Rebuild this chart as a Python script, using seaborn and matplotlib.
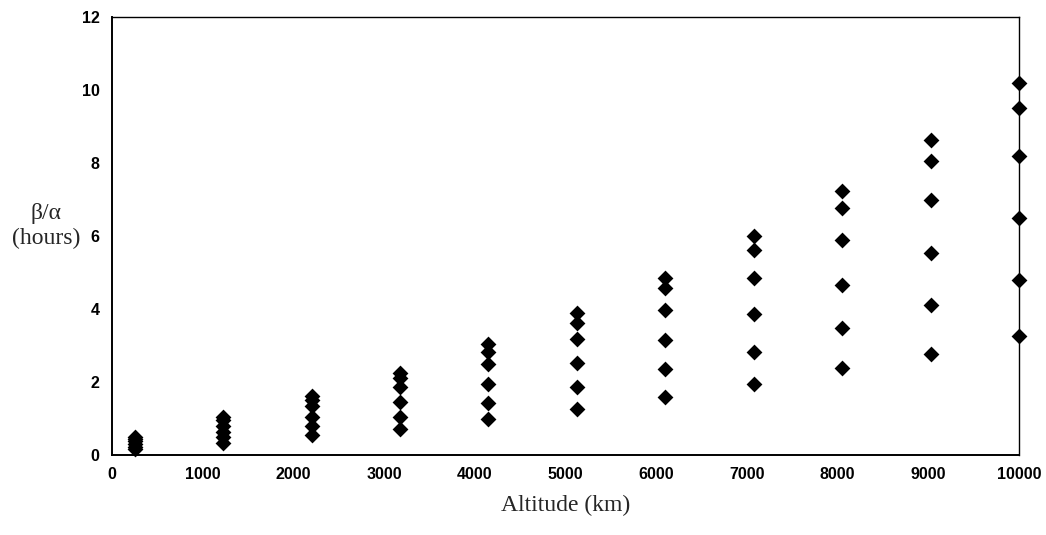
import pandas as pd
import matplotlib.pyplot as plt
import seaborn as sns

# altitudes (km) of each column of points
altitudes = [250, 1225, 2200, 3175, 4150, 5125, 6100, 7075, 8050, 9025, 10000]

# beta/alpha (hours) values for each altitude
ratio_250 = [0.16, 0.23, 0.31, 0.39, 0.45, 0.50]
ratio_1225 = [0.33, 0.48, 0.64, 0.80, 0.95, 1.03]
ratio_2200 = [0.55, 0.80, 1.05, 1.33, 1.50, 1.62]
ratio_3175 = [0.70, 1.05, 1.45, 1.85, 2.12, 2.25]
ratio_4150 = [1.00, 1.43, 1.94, 2.48, 2.82, 3.03]
ratio_5125 = [1.25, 1.87, 2.53, 3.19, 3.63, 3.90]
ratio_6100 = [1.60, 2.35, 3.15, 3.98, 4.58, 4.85]
ratio_7075 = [1.95, 2.83, 3.85, 4.85, 5.63, 6.00]
ratio_8050 = [2.37, 3.47, 4.65, 5.88, 6.77, 7.23]
ratio_9025 = [2.78, 4.10, 5.53, 6.98, 8.05, 8.62]
ratio_10000 = [3.26, 4.80, 6.50, 8.20, 9.50, 10.20]

all_ratios = [ratio_250, ratio_1225, ratio_2200, ratio_3175, ratio_4150, ratio_5125,
              ratio_6100, ratio_7075, ratio_8050, ratio_9025, ratio_10000]

rows = []
for alt, vals in zip(altitudes, all_ratios):
    for v in vals:
        rows.append({"altitude": alt, "ratio": v})
df = pd.DataFrame(rows)

sns.set_style("white")
plt.rcParams['font.family'] = ['Liberation Sans', 'DejaVu Sans']

fig = plt.figure(figsize=(10.46, 5.35), dpi=100)
ax = fig.add_axes([112 / 1046, (535 - 455) / 535, (1019 - 112) / 1046, (455 - 17) / 535])

sns.scatterplot(data=df, x="altitude", y="ratio", marker="D", s=65,
                color="black", edgecolor="black", linewidth=0, ax=ax, clip_on=False, zorder=3)

ax.set_xlim(0, 10000)
ax.set_ylim(0, 12)
ax.set_xticks(range(0, 10001, 1000))
ax.set_yticks(range(0, 13, 2))

for side in ["left", "bottom"]:
    ax.spines[side].set_linewidth(1.4)
for side in ["top", "right"]:
    ax.spines[side].set_linewidth(1.0)
for sp in ax.spines.values():
    sp.set_color("black")
    sp.set_visible(True)

ax.tick_params(axis="x", direction="inout", length=7, width=1, pad=5, colors="black")
ax.tick_params(axis="y", direction="out", length=4, width=1, pad=5, colors="black")
for lbl in ax.get_xticklabels() + ax.get_yticklabels():
    lbl.set_fontweight("bold")
    lbl.set_fontsize(11.5)

ax.set_xlabel("Altitude (km)", fontsize=17, family="Liberation Serif", va="center")
ax.xaxis.set_label_coords(0.5, (455 - 505) / 438)
ax.set_ylabel("β/α\n(hours)", fontsize=17, family="Liberation Serif", rotation=0,
              ha="center", va="center", linespacing=1.2)
ax.yaxis.set_label_coords((46 - 112) / 907, (455 - 226) / 438)

plt.savefig("out.png", dpi=100)
